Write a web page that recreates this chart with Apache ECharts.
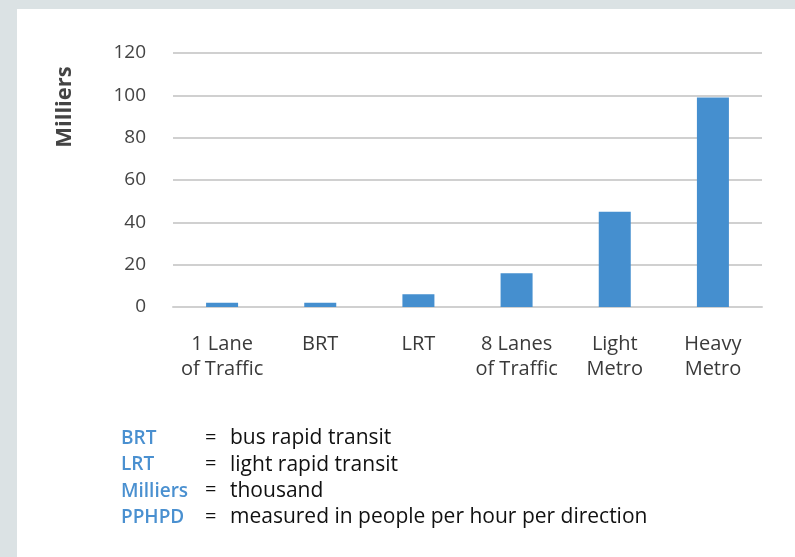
<!DOCTYPE html>
<html>
<head>
<meta charset="utf-8">
<script src="https://cdn.jsdelivr.net/npm/echarts@6/dist/echarts.min.js"></script>
<style>
  html, body { margin: 0; padding: 0; background: #dbe2e4; }
  #main { position: absolute; left: 17px; top: 9px; width: 778px; height: 548px; background: #fff; }
</style>
</head>
<body>
<div id="main"></div>
<script>
const categories = ['1 Lane\nof Traffic', 'BRT', 'LRT', '8 Lanes\nof Traffic', 'Light\nMetro', 'Heavy\nMetro'];
const values = [2, 2, 6, 16, 45, 99];
const yTicks = { min: 0, max: 120, interval: 20 };
const glossTerms = ['BRT', 'LRT', 'Milliers', 'PPHPD'];
const glossText = ['bus rapid transit', 'light rapid transit', 'thousand', 'measured in people per hour per direction'];

const FONT = '"Open Sans", "Noto Sans", sans-serif';
var myChart = echarts.init(document.getElementById('main'));

var glossary = [];
glossTerms.forEach((t, i) => {
  const y = 428 - 9 + i * 26.3;
  glossary.push({
    type: 'text', left: 121 - 17, top: y + 1,
    style: { text: t, fill: '#4a90d0', font: '600 19px ' + FONT }
  });
  glossary.push({
    type: 'text', left: 205 - 17, top: y,
    style: { text: '=', fill: '#111', font: '20px ' + FONT }
  });
  glossary.push({
    type: 'text', left: 230 - 17, top: y,
    style: { text: glossText[i], fill: '#111', font: '21px ' + FONT }
  });
});

var option = {
  animation: false,
  grid: { left: 156, right: 33, top: 44, bottom: 250 },
  xAxis: {
    type: 'category',
    data: categories,
    axisLine: { lineStyle: { color: '#d0d0d0', width: 2 } },
    axisTick: { show: false },
    axisLabel: { color: '#3a3a3a', fontSize: 20, lineHeight: 25, margin: 25, fontFamily: FONT, interval: 0 }
  },
  yAxis: {
    type: 'value',
    min: yTicks.min, max: yTicks.max, interval: yTicks.interval,
    axisLine: { show: false },
    axisTick: { show: false },
    axisLabel: { color: '#444', fontSize: 19, margin: 27, fontFamily: FONT },
    splitLine: { lineStyle: { color: '#d0d0d0', width: 2 } }
  },
  graphic: [{
    type: 'text',
    x: 65 - 17, y: 107 - 9,
    rotation: Math.PI / 2,
    style: { text: 'Milliers', fill: '#444', font: 'bold 22px ' + FONT, align: 'center', verticalAlign: 'middle' }
  }].concat(glossary),
  series: [{
    type: 'bar',
    data: values,
    barWidth: 32,
    itemStyle: { color: '#458fcf' }
  }]
};
myChart.setOption(option);
</script>
</body>
</html>
